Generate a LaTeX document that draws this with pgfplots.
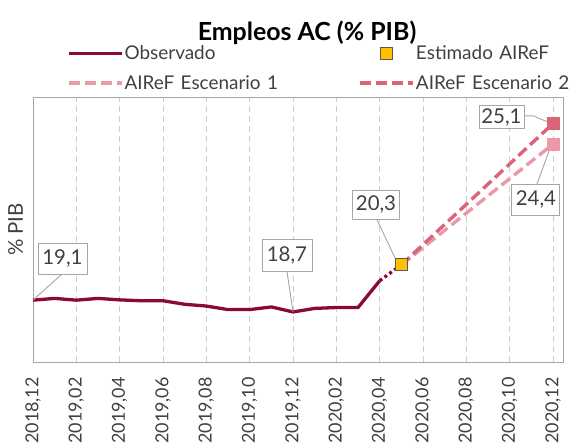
\documentclass[border=0pt]{standalone}
\usepackage{fontspec}
\setmainfont{Lato}
\usepackage{pgfplots}
\pgfplotsset{compat=1.18}
\definecolor{obs}{HTML}{8B0A2E}
\definecolor{esc1}{HTML}{E99AA6}
\definecolor{esc2}{HTML}{DA6478}
\definecolor{est}{HTML}{FFC000}
\definecolor{estb}{HTML}{595959}
\definecolor{frame}{HTML}{A6A6A6}
\definecolor{gridc}{HTML}{CFCFCF}
\definecolor{txt}{HTML}{404040}
\tikzset{lbl/.style={draw=frame, line width=0.9bp, fill=white, font=\fontsize{20.5}{20.5}\selectfont, text=txt, inner sep=0bp}}
\pgfplotsset{
  longline/.style={legend image code/.code={\draw[##1] (0bp,0bp) -- (53bp,0bp);}},
  markonly/.style={legend image code/.code={\draw[##1] plot coordinates {(26.5bp,0bp)};}},
}
\begin{document}
\begin{tikzpicture}
\useasboundingbox (-33bp,-82bp) rectangle (541bp,362bp);
\begin{axis}[
  scale only axis, width=530bp, height=265bp,
  at={(0,0)}, anchor=south west,
  xmin=0, xmax=24.46, ymin=17, ymax=26,
  clip=false,
  axis line style={frame, line width=0.9bp},
  xtick={0,2,...,24},
  xticklabels={{2018,12},{2019,02},{2019,04},{2019,06},{2019,08},{2019,10},{2019,12},{2020,02},{2020,04},{2020,06},{2020,08},{2020,10},{2020,12}},
  xticklabel style={rotate=90, anchor=east, font=\fontsize{18}{18}\selectfont, text=txt, inner sep=0bp},
  xticklabel shift=15bp,
  ytick=\empty,
  major tick length=0pt,
  xmajorgrids,
  grid style={gridc, dash pattern=on 6bp off 4bp, line width=0.9bp},
  ylabel={\% PIB},
  ylabel style={at={(axis description cs:-0.012,0.5)}, anchor=south, font=\fontsize{20.5}{20.5}\selectfont, text=txt},
  title={Empleos AC (\% PIB)},
  title style={at={(axis description cs:0.517,1.219)}, anchor=center, font=\bfseries\fontsize{25}{25}\selectfont},
  legend columns=2,
  legend style={at={(rel axis cs:0,1)}, anchor=north west, xshift=34bp, yshift=55bp,
    draw=none, fill=none, inner sep=0bp, row sep=8bp,
    font=\fontsize{19}{19}\selectfont, text=txt,
    nodes={inner xsep=1bp, inner ysep=2bp, text height=15bp, text depth=3bp, text width=233bp, anchor=west}},
]
% Observado
\addplot[obs, line width=3.3bp, line join=round, longline]
  coordinates {(0,19.1)(1,19.16)(2,19.1)(3,19.16)(4,19.11)(5,19.08)(6,19.08)(7,18.96)(8,18.9)(9,18.78)(10,18.78)(11,18.87)(12,18.7)(13,18.82)(14,18.85)(15,18.85)(16,19.76)};
\addlegendentry{Observado}
% Estimado AIReF
\addplot[only marks, mark=square*, mark size=6bp, mark options={fill=est, draw=estb, line width=1.3bp}, markonly]
  coordinates {(17,20.3)};
\addlegendentry{Estimado AIReF}
% Escenario 1
\addplot[esc1, line width=3.4bp, dash pattern=on 11bp off 5bp, mark=square*, mark indices={2}, mark size=6bp, mark options={solid, line width=0bp, fill=esc1, draw=esc1}, longline]
  coordinates {(17,20.3)(24,24.4)};
\addlegendentry{AIReF Escenario 1}
% Escenario 2
\addplot[esc2, line width=3.4bp, dash pattern=on 11bp off 5bp, mark=square*, mark indices={2}, mark size=6bp, mark options={solid, line width=0bp, fill=esc2, draw=esc2}, longline]
  coordinates {(17,20.3)(24,25.1)};
\addlegendentry{AIReF Escenario 2}
% dotted link
\addplot[obs, line width=3.3bp, dash pattern=on 3bp off 3bp, forget plot]
  coordinates {(16,19.76)(16.85,20.22)};
% leader lines
\draw[frame, line width=0.9bp] (axis cs:1.34,19.99) -- (axis cs:0,19.1);
\draw[frame, line width=0.9bp] (axis cs:11.72,20.08) -- (axis cs:12,18.7);
\draw[frame, line width=0.9bp] (axis cs:15.86,21.86) -- (axis cs:16.71,20.53);
\draw[frame, line width=0.9bp] (axis cs:22.66,25.36) -- (axis cs:23.08,25.36) -- (axis cs:23.73,25.16);
\draw[frame, line width=0.9bp] (axis cs:23.26,23.05) -- (axis cs:23.82,24.17);
% labels
\node[lbl, minimum width=49bp, minimum height=31bp] at (axis cs:1.36,20.51) {19,1};
\node[lbl, minimum width=50bp, minimum height=32bp] at (axis cs:11.72,20.63) {18,7};
\node[lbl, minimum width=47bp, minimum height=29bp] at (axis cs:15.83,22.35) {20,3};
\node[lbl, minimum width=45bp, minimum height=23bp] at (axis cs:21.62,25.31) {25,1};
\node[lbl, minimum width=48bp, minimum height=31bp] at (axis cs:23.21,22.52) {24,4};
\end{axis}
\end{tikzpicture}
\end{document}
